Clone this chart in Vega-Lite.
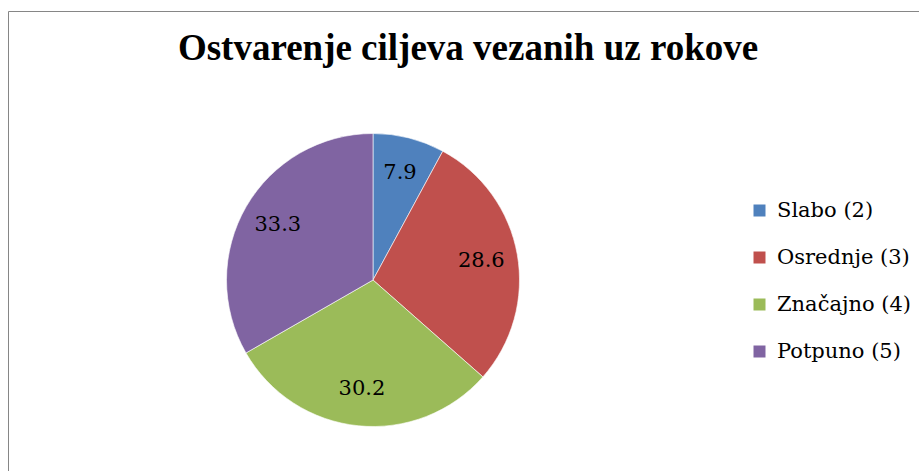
{
  "$schema": "https://vega.github.io/schema/vega-lite/v6.json",
  "autosize": {"type": "none"},
  "padding": {"left": 8, "top": 11, "right": 0, "bottom": 0},
  "width": 920,
  "height": 470,
  "background": "white",
  "config": {"view": {"stroke": "#868686", "strokeWidth": 1}},
  "title": {
    "text": "Ostvarenje ciljeva vezanih uz rokove",
    "font": "Liberation Serif",
    "fontSize": 37,
    "fontWeight": "bold",
    "color": "black",
    "anchor": "middle",
    "frame": "group",
    "baseline": "alphabetic",
    "offset": 0,
    "dy": 86
  },
  "data": {"values": [
    {"label": "Slabo (2)", "value": 7.9, "idx": 1},
    {"label": "Osrednje (3)", "value": 28.6, "idx": 2},
    {"label": "Značajno (4)", "value": 30.2, "idx": 3},
    {"label": "Potpuno (5)", "value": 33.3, "idx": 4}
  ]},
  "encoding": {
    "theta": {"field": "value", "type": "quantitative", "stack": true},
    "order": {"field": "idx", "type": "quantitative"},
    "x": {"datum": 0, "type": "quantitative", "scale": {"domain": [-365, 555]}, "axis": null},
    "y": {"datum": 0, "type": "quantitative", "scale": {"domain": [-201, 269]}, "axis": null}
  },
  "layer": [
    {
      "mark": {"type": "arc", "outerRadius": 146.5, "stroke": "white", "strokeWidth": 0.6},
      "encoding": {
        "color": {
          "field": "label",
          "type": "nominal",
          "sort": ["Slabo (2)", "Osrednje (3)", "Značajno (4)", "Potpuno (5)"],
          "scale": {"domain": ["Slabo (2)", "Osrednje (3)", "Značajno (4)", "Potpuno (5)"], "range": ["#4F81BD", "#C0504D", "#9BBB59", "#8064A2"]},
          "legend": {
            "title": null,
            "orient": "none",
            "legendX": 741,
            "legendY": 189,
            "padding": 0,
            "symbolType": "square",
            "symbolSize": 144,
            "symbolStrokeWidth": 0,
            "labelFont": "DejaVu Serif",
            "labelFontSize": 21,
            "labelFontWeight": "normal",
            "labelColor": "black",
            "labelOffset": 7,
            "rowPadding": 25,
            "labelLimit": 300
          }
        }
      }
    },
    {
      "mark": {"type": "text", "radius": 110, "font": "DejaVu Serif", "fontWeight": "normal", "fontSize": 21, "color": "black"},
      "encoding": {
        "text": {"field": "value", "type": "quantitative", "format": ".1f"}
      }
    }
  ]
}
